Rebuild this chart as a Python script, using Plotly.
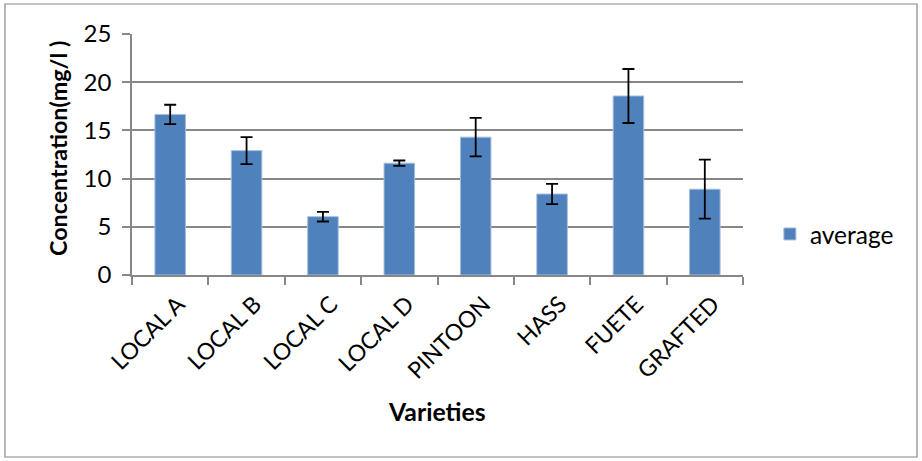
import plotly.graph_objects as go

varieties = ["LOCAL A", "LOCAL B", "LOCAL C", "LOCAL D", "PINTOON", "HASS", "FUETE", "GRAFTED"]
average = [16.66, 12.9, 6.05, 11.6, 14.3, 8.4, 18.57, 8.9]
error = [1.0, 1.4, 0.5, 0.28, 2.0, 1.05, 2.8, 3.06]

FONT = "Lato"
GRID = "#878787"

fig = go.Figure()
fig.add_trace(go.Bar(
    x=varieties, y=average, name="average",
    marker=dict(color="#4F81BD", line=dict(color="#A7BEDC", width=1)),
    error_y=dict(type="data", array=error, visible=True, color="black",
                 thickness=1.8, width=6),
))

fig.update_layout(
    width=922, height=461,
    margin=dict(l=132, r=179, t=34, b=186),
    paper_bgcolor="white", plot_bgcolor="white",
    bargap=0.6,
    font=dict(family=FONT, size=23, color="black"),
    showlegend=True,
    legend=dict(x=1.044, y=0.17, xanchor="left", yanchor="middle",
                font=dict(family=FONT, size=24.5, color="black"),
                bgcolor="rgba(0,0,0,0)", itemwidth=30),
    xaxis=dict(
        type="category", tickangle=-45, showgrid=False,
        showline=True, linecolor=GRID, linewidth=1.5,
        ticks="outside", tickson="boundaries", ticklen=8, tickcolor=GRID, tickwidth=1.5,
        tickfont=dict(family=FONT, size=23, color="black"),
        ticklabelshift=8, ticklabelstandoff=5,
    ),
    yaxis=dict(
        range=[0, 25], dtick=5, showgrid=True, gridcolor=GRID, gridwidth=1.5,
        showline=True, linecolor=GRID, linewidth=1.5,
        ticks="outside", ticklen=8, tickcolor=GRID, tickwidth=1.5,
        tickfont=dict(family=FONT, size=24, color="black"),
        ticklabelstandoff=6,
        zeroline=False,
    ),
    annotations=[
        dict(text="<b>Concentration(mg/l )</b>", x=-0.121, y=0.523, xref="paper", yref="paper",
             textangle=-90, showarrow=False, xanchor="center", yanchor="middle",
             font=dict(family=FONT, size=23.3, color="black")),
        dict(text="<b>Varieties</b>", x=(437 - 132) / 611, y=-0.568, xref="paper", yref="paper",
             showarrow=False, xanchor="center", yanchor="middle",
             font=dict(family=FONT, size=24.8, color="black")),
    ],
    shapes=[
        dict(type="rect", xref="paper", yref="paper",
             x0=-0.2079, x1=1.2848, y0=-0.7552, y1=1.1245,
             line=dict(color="#878787", width=1.2), fillcolor="rgba(0,0,0,0)", layer="below"),
    ],
)

fig.write_html("out.html", config={"displayModeBar": False},
               post_script="document.body.style.margin='0';document.body.style.overflow='hidden';")
